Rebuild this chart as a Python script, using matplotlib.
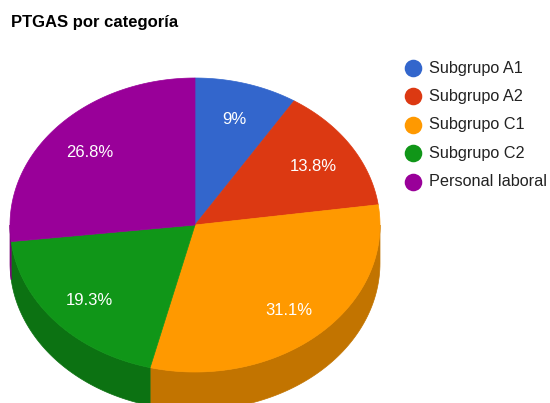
import numpy as np
import matplotlib
matplotlib.use("Agg")
import matplotlib.pyplot as plt
from matplotlib.patches import Polygon

title = "PTGAS por categoría"
categories = ["Subgrupo A1", "Subgrupo A2", "Subgrupo C1", "Subgrupo C2", "Personal laboral"]
values = [9.0, 13.8, 31.1, 19.3, 26.8]
labels = ["9%", "13.8%", "31.1%", "19.3%", "26.8%"]
colors = ["#3366cc", "#dc3912", "#ff9900", "#109618", "#990099"]

plt.rcParams['font.family'] = ['Liberation Sans', 'DejaVu Sans']

W, H = 550, 403
fig = plt.figure(figsize=(W / 100, H / 100), dpi=100)
ax = fig.add_axes([0, 0, 1, 1])
ax.set_xlim(0, W)
ax.set_ylim(H, 0)
ax.axis('off')

cx, cy = 195.0, 225.0
rx, ry = 185.0, 147.0
depth = 38.0


def darker(c, f=0.76):
    r, g, b = matplotlib.colors.to_rgb(c)
    return (r * f, g * f, b * f)


def pt(theta):
    # theta: clockwise from top, radians
    return cx + rx * np.sin(theta), cy - ry * np.cos(theta)


total = sum(values)
bounds = np.cumsum([0] + values) / total * 2 * np.pi

# sides (front half: theta between pi/2 and 3pi/2)
for i, c in enumerate(colors):
    a, b = bounds[i], bounds[i + 1]
    lo, hi = max(a, np.pi / 2), min(b, 3 * np.pi / 2)
    if hi <= lo:
        continue
    t = np.linspace(lo, hi, 80)
    xs, ys = pt(t)
    top = np.column_stack([xs, ys])
    bot = np.column_stack([xs, ys + depth])[::-1]
    ax.add_patch(Polygon(np.vstack([top, bot]), closed=True, fc=darker(c), ec=darker(c), lw=0.5))

# top faces
for i, c in enumerate(colors):
    a, b = bounds[i], bounds[i + 1]
    t = np.linspace(a, b, 120)
    xs, ys = pt(t)
    verts = np.vstack([[cx, cy], np.column_stack([xs, ys])])
    ax.add_patch(Polygon(verts, closed=True, fc=c, ec=c, lw=0.5))

# slice labels
for i, lab in enumerate(labels):
    m = (bounds[i] + bounds[i + 1]) / 2
    x = cx + 0.76 * rx * np.sin(m)
    y = cy - 0.76 * ry * np.cos(m) + 2
    ax.text(x, y, lab, color="white", fontsize=12, ha="center", va="center")

# title
ax.text(11, 22, title, fontsize=12, fontweight="bold", ha="left", va="center", color="#000000")

# legend
for i, (name, c) in enumerate(zip(categories, colors)):
    y = 68 + i * 28.4
    ax.scatter([413], [y], s=160, color=c, marker="o", linewidths=0)
    ax.text(429, y, name, fontsize=11.7, ha="left", va="center", color="#222222")

fig.savefig("out.png", dpi=100)
